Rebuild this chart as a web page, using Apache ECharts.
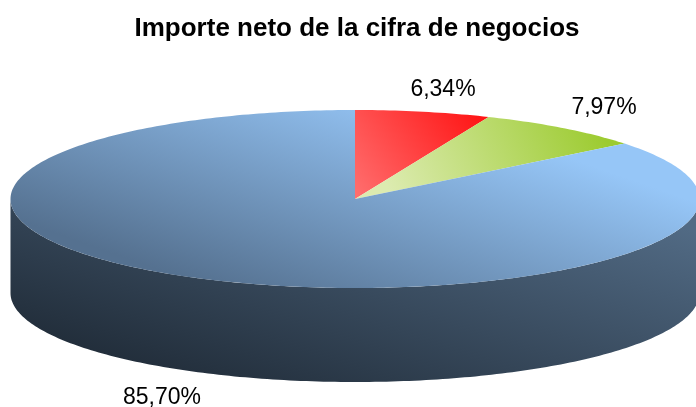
<!DOCTYPE html>
<html>
<head>
<meta charset="utf-8">
<style>
html, body { margin: 0; padding: 0; background: #fff; }
#main { width: 696px; height: 407px; }
</style>
<script src="https://cdn.jsdelivr.net/npm/echarts@6/dist/echarts.min.js"></script>
</head>
<body>
<div id="main"></div>
<script>
var sliceNames = ['Rojo', 'Verde', 'Azul'];
var sliceValues = [6.34, 7.97, 85.70];
var sliceLabels = ['6,34%', '7,97%', '85,70%'];

// geometry of the tilted pie
var cx = 355, cy = 199, rx = 344.5, ry = 89, depth = 94;
var labelPos = [[443, 90], [604, 108], [162, 398]];

function grad(x1, y1, x2, y2, c1, c2) {
    return new echarts.graphic.LinearGradient(x1, y1, x2, y2, [
        { offset: 0, color: c1 },
        { offset: 1, color: c2 }
    ], true);
}

var topFills = [
    grad(480, 110, 355, 200, '#ff1414', '#ff7070'),
    grad(600, 125, 400, 215, '#9ccb30', '#dcebb0'),
    grad(690, 200, 610, 428, '#96c6f7', '#557190')
];
var sideFill = grad(690, 230, 580, 562, '#516a84', '#1b2530');

function pt(t, dy) {
    return [cx + rx * Math.sin(t), cy - ry * Math.cos(t) + (dy || 0)];
}

function arc(t0, t1, dy) {
    var pts = [];
    var n = Math.max(2, Math.ceil(Math.abs(t1 - t0) * 60));
    for (var i = 0; i <= n; i++) {
        pts.push(pt(t0 + (t1 - t0) * i / n, dy));
    }
    return pts;
}

var total = sliceValues.reduce(function (a, b) { return a + b; }, 0);

function renderSlice(params, api) {
    var i = params.dataIndex;
    var before = sliceValues.slice(0, i).reduce(function (a, b) { return a + b; }, 0);
    var t0 = before / total * Math.PI * 2;
    var t1 = (before + api.value(0)) / total * Math.PI * 2;
    var children = [];

    // front wall, only the part of the arc between 3 and 9 o'clock shows
    var a = Math.max(t0, Math.PI / 2), b = Math.min(t1, Math.PI * 1.5);
    if (b > a) {
        var upper = arc(a, b, 0);
        var lower = arc(b, a, depth);
        children.push({
            type: 'polygon',
            shape: { points: upper.concat(lower) },
            style: { fill: sideFill }
        });
    }

    children.push({
        type: 'polygon',
        shape: { points: [[cx, cy]].concat(arc(t0, t1, 0)) },
        style: { fill: topFills[i] }
    });

    children.push({
        type: 'text',
        style: {
            text: sliceLabels[i],
            x: labelPos[i][0],
            y: labelPos[i][1],
            align: 'center',
            verticalAlign: 'middle',
            fill: '#000',
            fontFamily: '"Liberation Sans", Arial, sans-serif',
            fontSize: 23
        }
    });
    return { type: 'group', children: children };
}

var chart = echarts.init(document.getElementById('main'), null, { renderer: 'canvas' });
chart.setOption({
    animation: false,
    backgroundColor: '#fff',
    title: {
        text: 'Importe neto de la cifra de negocios',
        left: 352,
        top: 11,
        textAlign: 'center',
        textStyle: {
            fontFamily: '"Liberation Sans", Arial, sans-serif',
            fontWeight: 'bold',
            fontSize: 26,
            color: '#000'
        }
    },
    series: [{
        type: 'custom',
        coordinateSystem: 'none',
        renderItem: renderSlice,
        data: sliceValues.map(function (v, i) {
            return { name: sliceNames[i], value: [v] };
        })
    }]
});
</script>
</body>
</html>
